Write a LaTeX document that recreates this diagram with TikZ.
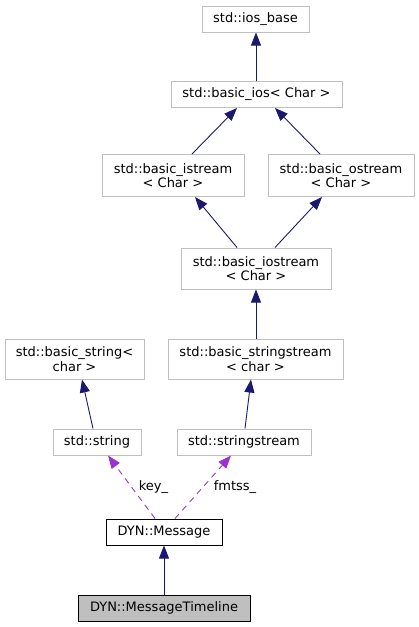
\documentclass[tikz,border=0pt]{standalone}
\usepackage{fontspec}
\setmainfont{DejaVu Sans}
\usetikzlibrary{arrows.meta,calc}
\definecolor{edgeblue}{HTML}{191970}
\definecolor{edgepurple}{HTML}{9A32CD}
\definecolor{boxgrey}{HTML}{BFBFBF}
\begin{document}
\begin{tikzpicture}[x=1pt,y=-1pt,
  cls/.style={draw=boxgrey,line width=1pt,rectangle,inner sep=0pt,align=center,
    font=\fontsize{13pt}{14.5pt}\selectfont,text=black},
  main/.style={cls,draw=black},
  inh/.style={draw=edgeblue,line width=0.9pt,-{Triangle[length=13pt,width=10pt]}},
  use/.style={draw=edgepurple,line width=0.9pt,dash pattern=on 6pt off 5pt,-{Triangle[length=13pt,width=10pt]}},
  lbl/.style={font=\fontsize{13pt}{14.5pt}\selectfont,inner sep=0pt}]
\useasboundingbox (0,0) rectangle (419,627);
\node[cls,minimum width=107pt,minimum height=26pt] (ios) at (255.5,19) {std::ios\_base};
\node[cls,minimum width=171pt,minimum height=26pt] (bios) at (256.5,94.5) {std::basic\_ios< Char >};
\node[cls,minimum width=142pt,minimum height=42pt] (ist) at (173,175.5) {std::basic\_istream\\< Char >};
\node[cls,minimum width=146pt,minimum height=42pt] (ost) at (341,175.5) {std::basic\_ostream\\< Char >};
\node[cls,minimum width=150pt,minimum height=41pt] (iost) at (256,268.5) {std::basic\_iostream\\< Char >};
\node[cls,minimum width=139pt,minimum height=40pt] (bstr) at (74.5,359) {std::basic\_string<\\char >};
\node[cls,minimum width=175pt,minimum height=40pt] (bss) at (255.5,359) {std::basic\_stringstream\\< char >};
\node[cls,minimum width=88pt,minimum height=26pt] (str) at (97,442) {std::string};
\node[cls,minimum width=134pt,minimum height=26pt] (ss) at (244,442) {std::stringstream};
\node[main,minimum width=116pt,minimum height=26pt] (msg) at (164,532) {DYN::Message};
\node[main,fill=boxgrey,minimum width=172pt,minimum height=26pt] (tl) at (164,608) {DYN::MessageTimeline};

\draw[inh] (bios.north -| 256,0) -- (ios.south -| 256,0);
\draw[inh] ([xshift=19pt]ist.north) -- ([xshift=-19.5pt]bios.south);
\draw[inh] ([xshift=-21pt]ost.north) -- ([xshift=18.5pt]bios.south);
\draw[inh] ([xshift=-19pt]iost.north) -- ([xshift=22pt]ist.south);
\draw[inh] ([xshift=19pt]iost.north) -- ([xshift=-19pt]ost.south);
\draw[inh] (bss.north -| 256,0) -- (iost.south -| 256,0);
\draw[inh] ([xshift=-4pt]str.north) -- ([xshift=7.5pt]bstr.south);
\draw[inh] ([xshift=1pt]ss.north) -- ([xshift=-4.5pt]bss.south);
\draw[use] ([xshift=-9pt]msg.north) -- ([xshift=11pt]str.south);
\draw[use] ([xshift=11pt]msg.north) -- ([xshift=-13pt]ss.south);
\draw[inh] (tl.north) -- (msg.south);
\node[lbl] (k) at (153.5,487) {key\_};
\node[lbl] (f) at (235,487) {fmtss\_};
\end{tikzpicture}
\end{document}
